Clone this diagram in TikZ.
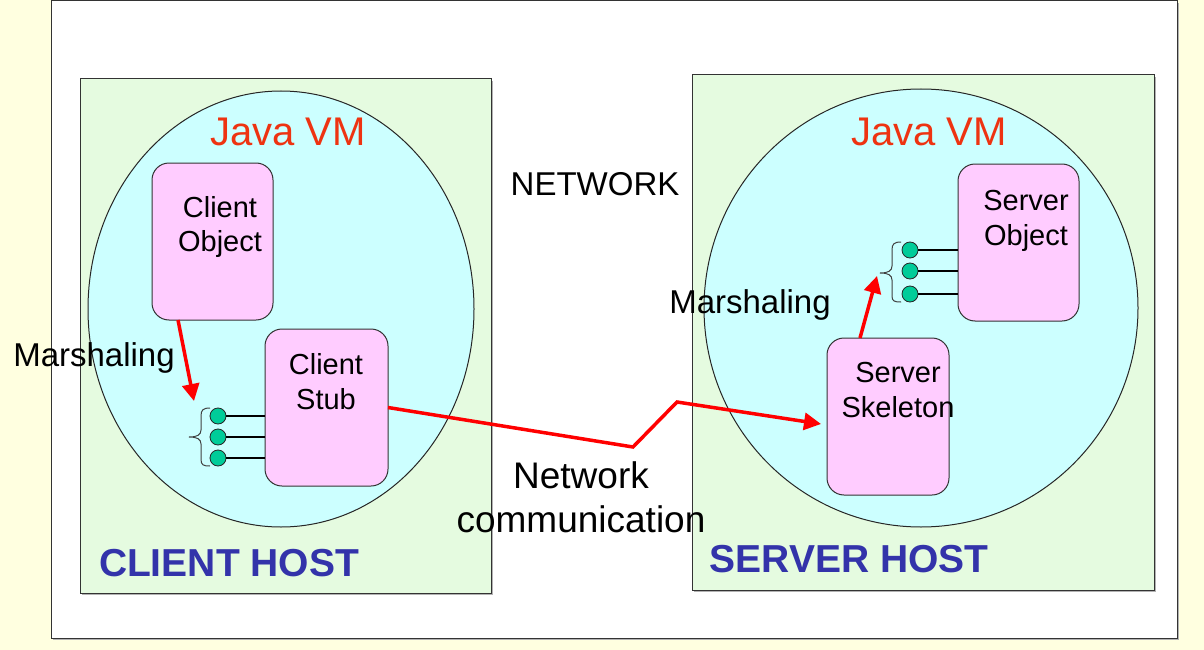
\documentclass[tikz,border=0pt]{standalone}
\usepackage{fontspec}
\setmainfont{Liberation Sans}
\usetikzlibrary{shapes.geometric,arrows.meta}
\definecolor{bgyellow}{RGB}{255,255,224}
\definecolor{hostgreen}{RGB}{229,251,224}
\definecolor{vmcyan}{RGB}{204,255,255}
\definecolor{objpink}{RGB}{255,204,255}
\definecolor{dotgreen}{RGB}{0,204,153}
\definecolor{vmred}{RGB}{238,51,17}
\definecolor{hostblue}{RGB}{51,51,170}
\begin{document}
\begin{tikzpicture}[x=1pt,y=-1pt,
  hostbox/.style={draw=black!80,fill=hostgreen,line width=1pt,inner sep=0pt,outer sep=0pt},
  vmell/.style={ellipse,draw=black!85,fill=vmcyan,line width=1pt,inner sep=0pt,outer sep=0pt},
  objbox/.style={draw=black!80,fill=objpink,line width=1pt,rounded corners=17pt,inner sep=0pt,outer sep=0pt,minimum width=122pt,minimum height=157pt},
  dotn/.style={circle,draw=black!85,fill=dotgreen,line width=0.8pt,minimum size=16pt,inner sep=0pt,outer sep=0pt},
  wire/.style={draw=black,line width=1.3pt},
  brace/.style={draw=black!75,line width=1pt},
  redarrow/.style={draw=red,line width=3.5pt,-{Triangle[length=17pt,width=17pt]}},
  lbl/.style={font=\fontsize{29}{35}\selectfont,align=center,inner sep=0pt},
  biglbl/.style={font=\fontsize{33}{44}\selectfont,align=center,inner sep=0pt},
  netlbl/.style={font=\fontsize{37}{44}\selectfont,align=center,inner sep=0pt},
  vmlbl/.style={font=\fontsize{40}{48}\selectfont,text=vmred,inner sep=0pt},
  hostlbl/.style={font=\fontsize{39}{46}\bfseries\selectfont,text=hostblue,inner sep=0pt}]
% background
\fill[bgyellow] (0,0) rectangle (1204,650);
\useasboundingbox (0,0) rectangle (1204,650);
\fill[black!30] (53,3) rectangle (1179,640);
\draw[fill=white,draw=black!80,line width=1pt] (51,1) rectangle (1177,638);
% hosts
\fill[black!30] (82,81) rectangle (493,595);
\node[hostbox,minimum width=411pt,minimum height=514pt] (chost) at (285.5,336) {};
\fill[black!30] (694,77) rectangle (1156,592);
\node[hostbox,minimum width=462pt,minimum height=515pt] (shost) at (923,332.5) {};
% VMs
\node[vmell,minimum width=386pt,minimum height=436pt] (cvm) at (281,309) {};
\node[vmell,minimum width=434pt,minimum height=438pt] (svm) at (921,308) {};
\node[vmlbl] (cvmt) at (288,132) {Java VM};
\node[vmlbl] (svmt) at (929,132) {Java VM};
% objects
\node[objbox,minimum width=121pt] (cobj) at (212.5,241.5) {};
\node[objbox,minimum width=123pt] (stub) at (326.5,407.5) {};
\node[objbox,minimum width=121pt] (sobj) at (1018.5,242.5) {};
\node[objbox] (skel) at (888,416.5) {};
\node[lbl] (cobjt) at (220,227) {Client\\Object};
\node[lbl] (stubt) at (326,382) {Client\\Stub};
\node[lbl] (sobjt) at (1026,221) {Server\\Object};
\node[lbl] (skelt) at (898,390) {Server\\Skeleton};
% client dots
\node[dotn] (c1) at (218,416) {};
\node[dotn] (c2) at (218,437) {};
\node[dotn] (c3) at (218,458) {};
\draw[wire] (c1) -- (c1 -| stub.west);
\draw[wire] (c2) -- (c2 -| stub.west);
\draw[wire] (c3) -- (c3 -| stub.west);
\draw[brace] (210,408) .. controls (203,408) and (201,410) .. (201,416) -- (201,430)
  .. controls (201,435) and (197,437) .. (189,437)
  .. controls (197,437) and (201,439) .. (201,444) -- (201,459)
  .. controls (201,465) and (203,466) .. (210,466);
% server dots
\node[dotn] (s1) at (910,250) {};
\node[dotn] (s2) at (910,271) {};
\node[dotn] (s3) at (910,294) {};
\draw[wire] (s1) -- (s1 -| sobj.west);
\draw[wire] (s2) -- (s2 -| sobj.west);
\draw[wire] (s3) -- (s3 -| sobj.west);
\draw[brace] (901,242) .. controls (894,242) and (892,244) .. (892,250) -- (892,266)
  .. controls (892,271) and (888,273) .. (880,273)
  .. controls (888,273) and (892,275) .. (892,280) -- (892,296)
  .. controls (892,301) and (894,302) .. (901,302);
% arrows
\coordinate (ctip) at (194,401);
\coordinate (stip) at (877,276);
\coordinate (bend1) at (633,447);
\coordinate (bend2) at (677,402);
\coordinate (ntip) at (821,424);
\draw[redarrow] ([xshift=-34.5pt]cobj.south) -- (ctip);
\draw[redarrow] ([xshift=-28pt]skel.north) -- (stip);
\draw[redarrow,line join=miter] (stub.east) -- (bend1) -- (bend2) -- (ntip);
% labels
\node[biglbl] (cmar) at (94,358) {Marshaling};
\node[biglbl] (smar) at (750,305) {Marshaling};
\node[biglbl] (net) at (595,184) {NETWORK};
\node[netlbl] (netc) at (581,497) {Network\\communication};
\node[hostlbl] (chl) at (229,563) {CLIENT HOST};
\node[hostlbl] (shl) at (849,559) {SERVER HOST};
\end{tikzpicture}
\end{document}
